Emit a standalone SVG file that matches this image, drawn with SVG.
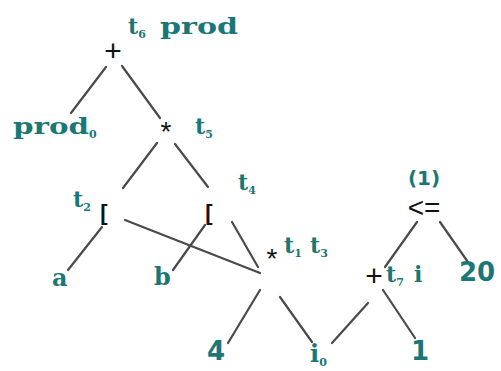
<svg xmlns="http://www.w3.org/2000/svg" width="501" height="371" viewBox="0 0 501 371">
<style>
.e{stroke:#4a4a4a;stroke-width:2.2;stroke-linecap:round;fill:none}
.op{font-family:"Liberation Sans",Arial,sans-serif;fill:#111;text-anchor:middle}
.lb{font-family:"DejaVu Serif",serif;font-weight:bold;fill:#1a7777}
.num{font-family:"DejaVu Sans",sans-serif;font-weight:bold;fill:#1a7777}
.sub{font-size:11px}
</style>
<rect width="501" height="371" fill="#fff"/>
<g id="connectors">
<line class="e" x1="106" y1="67" x2="71" y2="113"/>
<line class="e" x1="122" y1="66" x2="160" y2="118"/>
<line class="e" x1="157" y1="143" x2="123" y2="188"/>
<line class="e" x1="175" y1="144" x2="208" y2="187"/>
<line class="e" x1="102" y1="227" x2="68" y2="270"/>
<line class="e" x1="205" y1="225" x2="173" y2="270"/>
<line class="e" x1="125" y1="220" x2="260" y2="273"/>
<line class="e" x1="232" y1="222" x2="258" y2="267"/>
<line class="e" x1="260" y1="290" x2="228" y2="343"/>
<line class="e" x1="280" y1="297" x2="312" y2="342"/>
<line class="e" x1="332" y1="343" x2="368" y2="303"/>
<line class="e" x1="383" y1="290" x2="415" y2="338"/>
<line class="e" x1="385" y1="267" x2="417" y2="222"/>
<line class="e" x1="440" y1="222" x2="470" y2="265"/>
</g>
<g id="n_plus_top">
<text class="op" x="113" y="61" font-size="30">+</text>
<text class="lb" x="128" y="34" font-size="22">t<tspan class="sub" dy="4">6</tspan><tspan dy="-4" x="160" textLength="78" lengthAdjust="spacingAndGlyphs">prod</tspan></text>
</g>
<g id="n_prod0">
<text class="lb" x="13" y="134" font-size="22"><tspan textLength="76" lengthAdjust="spacingAndGlyphs">prod</tspan><tspan class="sub" dy="4">0</tspan></text>
</g>
<g id="n_mul_t5">
<text class="op" x="166" y="141" font-size="28">*</text>
<text class="lb" x="195" y="134" font-size="22">t<tspan class="sub" dy="4">5</tspan></text>
</g>
<g id="n_idx_t2">
<text class="lb" x="73" y="207" font-size="22">t<tspan class="sub" dy="4">2</tspan></text>
<text class="op" x="104" y="220" font-size="22" font-weight="bold">[</text>
</g>
<g id="n_idx_t4">
<text class="op" x="209" y="220" font-size="22" font-weight="bold">[</text>
<text class="lb" x="238" y="190" font-size="22">t<tspan class="sub" dy="4">4</tspan></text>
</g>
<g id="n_a">
<text class="lb" x="52" y="286" font-size="24">a</text>
</g>
<g id="n_b">
<text class="lb" x="154" y="285" font-size="24">b</text>
</g>
<g id="n_mul_t1t3">
<text class="op" x="272" y="268" font-size="28">*</text>
<text class="lb" x="284" y="253" font-size="22">t<tspan class="sub" dy="4">1</tspan><tspan dy="-4" x="310">t</tspan><tspan class="sub" dy="4">3</tspan></text>
</g>
<g id="n_4">
<text class="num" x="207" y="360" font-size="26">4</text>
</g>
<g id="n_i0">
<text class="lb" x="310" y="362" font-size="24">i<tspan class="sub" dy="4">0</tspan></text>
</g>
<g id="n_plus_t7">
<text class="op" x="374" y="286" font-size="30">+</text>
<text class="lb" x="386" y="282" font-size="22">t<tspan class="sub" dy="4">7</tspan><tspan dy="-4" x="414">i</tspan></text>
</g>
<g id="n_1">
<text class="num" x="411" y="360" font-size="26">1</text>
</g>
<g id="n_le">
<text class="num" x="424" y="185" font-size="20" text-anchor="middle">(1)</text>
<text class="op" x="424" y="217" font-size="28">&lt;=</text>
</g>
<g id="n_20">
<text class="num" x="459" y="281" font-size="26">20</text>
</g>
</svg>
